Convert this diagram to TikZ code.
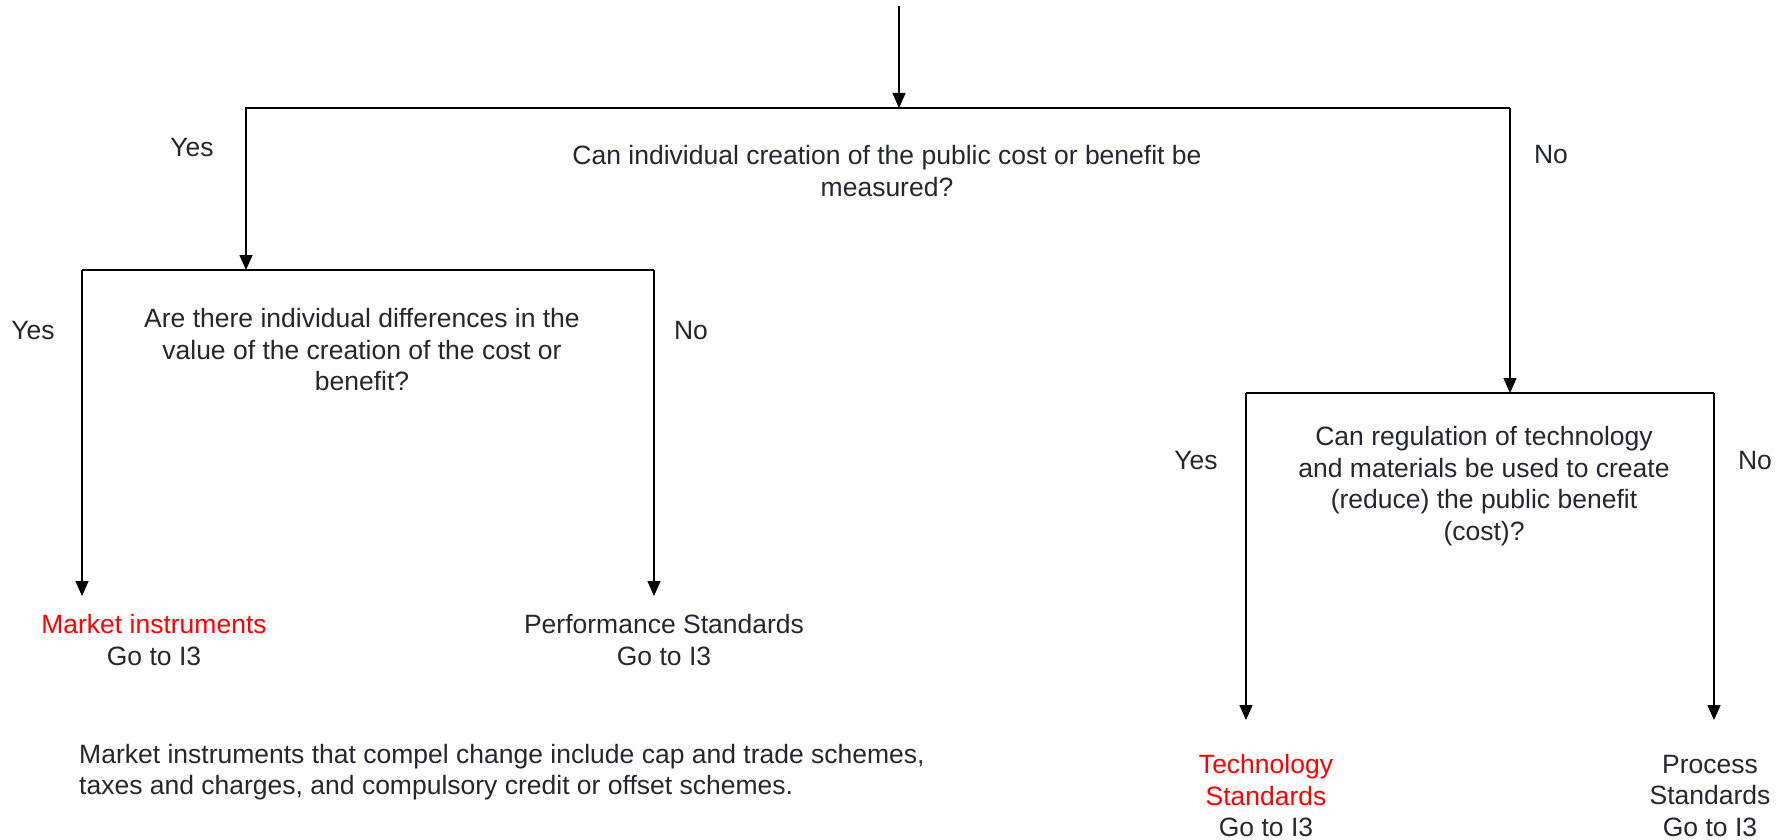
\documentclass[tikz,border=0pt]{standalone}
\usepackage{fontspec}
\setmainfont{Liberation Sans}
\usetikzlibrary{arrows.meta}
\definecolor{txt}{RGB}{38,38,48}
\definecolor{hot}{RGB}{255,0,0}
\begin{document}
\begin{tikzpicture}[x=1pt,y=-1pt,
  lbl/.style={font=\fontsize{26.5}{31.5}\selectfont, text=txt, inner sep=0pt, align=center},
  wire/.style={line width=1.5pt, draw=black},
  arr/.style={wire, -{Triangle[length=15pt,width=13pt]}}]
\useasboundingbox[fill=white] (0,0) rectangle (1786,840);

% junction coordinates
\coordinate (start) at (899,6);
\coordinate (q1top) at (899,108);
\coordinate (q1L) at (246,108);
\coordinate (q1R) at (1510,108);
\coordinate (q2top) at (246,270);
\coordinate (q2L) at (82,270);
\coordinate (q2R) at (654,270);
\coordinate (q3top) at (1510,393);
\coordinate (q3L) at (1246,393);
\coordinate (q3R) at (1714,393);
\coordinate (mktEnd) at (82,596);
\coordinate (perfEnd) at (654,596);
\coordinate (techEnd) at (1246,720);
\coordinate (procEnd) at (1714,720);

% questions
\node[lbl] (q1) at (887,171) {Can individual creation of the public cost or benefit be\\measured?};
\node[lbl] (q2) at (362,350) {Are there individual differences in the\\value of the creation of the cost or\\benefit?};
\node[lbl] (q3) at (1484,486) {Can regulation of technology\\and materials be used to create\\(reduce) the public benefit\\(cost)?};

% yes / no labels
\node[lbl] (y1) at (192,148) {Yes};
\node[lbl] (n1) at (1551,155) {No};
\node[lbl] (y2) at (33,331) {Yes};
\node[lbl] (n2) at (691,331) {No};
\node[lbl] (y3) at (1196,461) {Yes};
\node[lbl] (n3) at (1755,461) {No};

% outcomes
\node[lbl] (mkt) at (154,640) {\textcolor{hot}{Market instruments}\\Go to I3};
\node[lbl] (perf) at (664,640) {Performance Standards\\Go to I3};
\node[lbl] (tech) at (1266,796) {\textcolor{hot}{Technology}\\\textcolor{hot}{Standards}\\Go to I3};
\node[lbl] (proc) at (1710,796) {Process\\Standards\\Go to I3};

% note
\node[lbl, align=left, anchor=west] (note) at (79,772) {Market instruments that compel change include cap and trade schemes,\\taxes and charges, and compulsory credit or offset schemes.};

% connectors
\draw[arr] (start) -- (q1top);
\draw[arr] (q1R) -- (q1L) -- (q2top);
\draw[arr] (q1R) -- (q3top);
\draw[wire] (q2L) -- (q2R);
\draw[arr] (q2L) -- (mktEnd);
\draw[arr] (q2R) -- (perfEnd);
\draw[wire] (q3L) -- (q3R);
\draw[arr] (q3L) -- (techEnd);
\draw[arr] (q3R) -- (procEnd);
\end{tikzpicture}
\end{document}
